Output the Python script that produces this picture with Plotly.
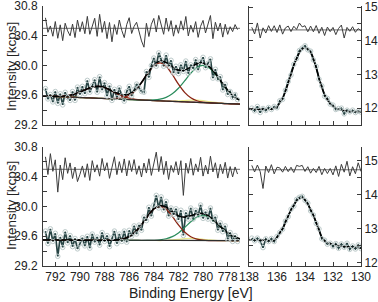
import numpy as np
import plotly.graph_objects as go

FONT = "Liberation Sans, Arial, sans-serif"

# ---------------- Left panels (Co 2p region) ----------------
E_LEFT = [792.8, 792.6, 792.4, 792.2, 792.0, 791.8, 791.6, 791.4, 791.2, 791.0,
          790.8, 790.6, 790.4, 790.2, 790.0, 789.8, 789.6, 789.4, 789.2, 789.0,
          788.8, 788.6, 788.4, 788.2, 788.0, 787.8, 787.6, 787.4, 787.2, 787.0,
          786.8, 786.6, 786.4, 786.2, 786.0, 785.8, 785.6, 785.4, 785.2, 785.0,
          784.8, 784.6, 784.4, 784.2, 784.0, 783.8, 783.6, 783.4, 783.2, 783.0,
          782.8, 782.6, 782.4, 782.2, 782.0, 781.8, 781.6, 781.4, 781.2, 781.0,
          780.8, 780.6, 780.4, 780.2, 780.0, 779.8, 779.6, 779.4, 779.2, 779.0,
          778.8, 778.6, 778.4, 778.2, 778.0, 777.8, 777.6, 777.4, 777.2]

TL_DATA = [29.69, 29.55, 29.61, 29.51, 29.65, 29.49, 29.62, 29.47, 29.64, 29.57,
           29.53, 29.65, 29.53, 29.71, 29.61, 29.72, 29.62, 29.80, 29.64, 29.73,
           29.81, 29.64, 29.85, 29.67, 29.77, 29.59, 29.73, 29.53, 29.68, 29.57,
           29.70, 29.59, 29.52, 29.65, 29.72, 29.59, 29.68, 29.75, 29.70, 29.65,
           29.64, 29.92, 29.84, 30.00, 30.10, 29.99, 30.17, 30.08, 29.99, 30.14,
           29.99, 30.07, 29.90, 29.99, 29.89, 30.01, 29.92, 30.06, 29.89, 30.01,
           29.96, 30.08, 29.94, 30.05, 30.11, 29.97, 30.03, 30.09, 29.83, 29.95,
           29.82, 29.85, 29.67, 29.75, 29.61, 29.65, 29.57, 29.61, 29.54]

BL_DATA = [29.67, 29.50, 29.70, 29.53, 29.64, 29.33, 29.59, 29.45, 29.66, 29.51,
           29.61, 29.46, 29.57, 29.43, 29.50, 29.58, 29.47, 29.60, 29.44, 29.63,
           29.52, 29.59, 29.48, 29.65, 29.53, 29.61, 29.46, 29.58, 29.67, 29.50,
           29.63, 29.53, 29.67, 29.52, 29.68, 29.60, 29.74, 29.63, 29.75, 29.68,
           29.86, 29.81, 29.99, 29.87, 30.02, 30.15, 29.98, 30.13, 29.95, 30.07,
           29.87, 29.98, 29.89, 29.97, 29.82, 29.95, 29.61, 29.92, 29.83, 29.98,
           29.83, 29.95, 29.88, 30.02, 29.84, 29.93, 29.83, 29.98, 29.80, 29.86,
           29.68, 29.78, 29.66, 29.74, 29.56, 29.65, 29.53, 29.61, 29.53]

FIT_E_LEFT = [793.0, 792.5, 792.0, 791.5, 791.0, 790.5, 790.0, 789.5, 789.0, 788.5,
              788.0, 787.5, 787.0, 786.5, 786.0, 785.5, 785.0, 784.5, 784.0, 783.5,
              783.0, 782.5, 782.0, 781.5, 781.0, 780.5, 780.0, 779.5, 779.0, 778.5,
              778.0, 777.5, 777.0]

TL_BG = [29.590, 29.587, 29.583, 29.580, 29.576, 29.573, 29.569, 29.566, 29.563, 29.559,
         29.556, 29.552, 29.549, 29.545, 29.542, 29.538, 29.535, 29.532, 29.528, 29.525,
         29.521, 29.518, 29.514, 29.511, 29.508, 29.504, 29.501, 29.497, 29.494, 29.490,
         29.487, 29.483, 29.480]
TL_BROWN1 = [29.590, 29.588, 29.585, 29.587, 29.594, 29.613, 29.642, 29.679, 29.710, 29.719,
             29.703, 29.665, 29.622, 29.585, 29.560, 29.545, 29.537, 29.533, 29.528, 29.525,
             29.521, 29.518, 29.514, 29.511, 29.508, 29.504, 29.501, 29.497, 29.494, 29.490,
             29.487, 29.483, 29.480]
TL_BROWN2 = [29.590, 29.587, 29.583, 29.580, 29.576, 29.573, 29.569, 29.566, 29.563, 29.559,
             29.556, 29.554, 29.556, 29.567, 29.600, 29.665, 29.769, 29.893, 29.996, 30.035,
             29.989, 29.879, 29.748, 29.638, 29.566, 29.526, 29.508, 29.499, 29.494, 29.490,
             29.487, 29.483, 29.480]
TL_GREEN = [29.590, 29.587, 29.583, 29.580, 29.576, 29.573, 29.569, 29.566, 29.563, 29.559,
            29.556, 29.552, 29.549, 29.545, 29.542, 29.538, 29.535, 29.535, 29.537, 29.547,
            29.572, 29.620, 29.694, 29.793, 29.896, 29.973, 30.001, 29.966, 29.882, 29.772,
            29.667, 29.585, 29.531]
TL_YELLOW = [29.590, 29.587, 29.583, 29.580, 29.576, 29.573, 29.569, 29.566, 29.563, 29.559,
             29.556, 29.552, 29.549, 29.545, 29.542, 29.538, 29.535, 29.532, 29.528, 29.525,
             29.522, 29.522, 29.524, 29.529, 29.534, 29.534, 29.527, 29.515, 29.504, 29.494,
             29.488, 29.483, 29.480]
TL_ENV = [29.590, 29.588, 29.585, 29.587, 29.594, 29.613, 29.642, 29.679, 29.710, 29.719,
          29.703, 29.667, 29.629, 29.607, 29.618, 29.672, 29.771, 29.897, 30.005, 30.057,
          30.041, 29.985, 29.938, 29.938, 29.980, 30.025, 30.034, 29.986, 29.892, 29.776,
          29.668, 29.585, 29.531]

BL_BG = [29.550, 29.550, 29.549, 29.549, 29.549, 29.548, 29.548, 29.547, 29.547, 29.546,
         29.546, 29.545, 29.545, 29.544, 29.544, 29.544, 29.543, 29.543, 29.543, 29.542,
         29.542, 29.542, 29.541, 29.541, 29.541, 29.541, 29.541, 29.540, 29.540, 29.540,
         29.540, 29.540, 29.540]
BL_BROWN = [29.550, 29.550, 29.549, 29.549, 29.549, 29.548, 29.548, 29.547, 29.547, 29.546,
            29.546, 29.547, 29.551, 29.564, 29.596, 29.659, 29.754, 29.868, 29.965, 30.002,
            29.964, 29.867, 29.752, 29.656, 29.593, 29.561, 29.547, 29.542, 29.540, 29.540,
            29.540, 29.540, 29.540]
BL_GREEN = [29.550, 29.550, 29.549, 29.549, 29.549, 29.548, 29.548, 29.547, 29.547, 29.546,
            29.546, 29.545, 29.545, 29.544, 29.544, 29.544, 29.543, 29.544, 29.546, 29.551,
            29.566, 29.595, 29.645, 29.716, 29.794, 29.857, 29.881, 29.856, 29.793, 29.715,
            29.644, 29.593, 29.564]
BL_YELLOW = [29.550, 29.550, 29.549, 29.549, 29.549, 29.548, 29.548, 29.547, 29.547, 29.546,
             29.546, 29.545, 29.545, 29.544, 29.544, 29.544, 29.543, 29.543, 29.543, 29.542,
             29.546, 29.552, 29.559, 29.567, 29.571, 29.567, 29.559, 29.550, 29.544, 29.541,
             29.540, 29.540, 29.540]
BL_ENV = [29.550, 29.550, 29.549, 29.549, 29.549, 29.548, 29.548, 29.547, 29.547, 29.546,
          29.546, 29.547, 29.551, 29.564, 29.596, 29.659, 29.754, 29.869, 29.968, 30.011,
          29.992, 29.930, 29.874, 29.857, 29.876, 29.903, 29.905, 29.868, 29.797, 29.716,
          29.644, 29.593, 29.564]

# ---------------- Right panels (P 2p region) ----------------
E_RIGHT = [137.8, 137.6, 137.4, 137.2, 137.0, 136.8, 136.6, 136.4, 136.2, 136.0,
           135.8, 135.6, 135.4, 135.2, 135.0, 134.8, 134.6, 134.4, 134.2, 134.0,
           133.8, 133.6, 133.4, 133.2, 133.0, 132.8, 132.6, 132.4, 132.2, 132.0,
           131.8, 131.6, 131.4, 131.2, 131.0, 130.8, 130.6, 130.4, 130.2, 130.0]
TR_DATA = [12.00, 11.92, 12.05, 11.87, 11.99, 11.93, 12.02, 11.96, 12.05, 12.01,
           12.22, 12.26, 12.53, 12.79, 12.98, 13.30, 13.47, 13.71, 13.78, 13.85,
           13.73, 13.69, 13.43, 13.24, 12.86, 12.66, 12.35, 12.29, 12.12, 12.09,
           11.96, 11.99, 12.00, 11.83, 11.94, 11.89, 11.94, 11.87, 11.91, 11.88]
BR_DATA = [12.72, 12.64, 12.72, 12.64, 12.44, 12.70, 12.62, 12.71, 12.62, 12.77,
           12.89, 12.98, 13.22, 13.35, 13.57, 13.66, 13.86, 13.92, 13.95, 13.83,
           13.75, 13.52, 13.40, 13.15, 12.99, 12.70, 12.66, 12.54, 12.57, 12.47,
           12.56, 12.42, 12.55, 12.45, 12.57, 12.39, 12.49, 12.40, 12.52, 12.41]
FIT_E_RIGHT = [138.0, 137.0, 136.5, 136.25, 136.0, 135.75, 135.5, 135.25, 135.0, 134.75,
               134.5, 134.25, 134.0, 133.75, 133.5, 133.25, 133.0, 132.75, 132.5, 132.25,
               132.0, 131.5, 131.0, 130.5, 130.0]
TR_ENV = [11.97, 11.965, 11.97, 11.99, 12.04, 12.19, 12.39, 12.68, 13.00, 13.32,
          13.56, 13.73, 13.80, 13.74, 13.58, 13.26, 12.90, 12.56, 12.32, 12.16,
          12.06, 11.95, 11.91, 11.90, 11.89]
BR_ENV = [12.67, 12.66, 12.65, 12.65, 12.74, 12.90, 13.08, 13.33, 13.54, 13.73,
          13.86, 13.91, 13.85, 13.68, 13.48, 13.24, 12.95, 12.71, 12.60, 12.56,
          12.53, 12.49, 12.47, 12.45, 12.43]

# residual baselines and display gains
RES_BASE_LEFT = 30.5
RES_BASE_TR = 14.32
RES_BASE_BR = 14.73
RES_GAIN_LEFT = 1.4
RES_GAIN_RIGHT = 2.5

# ticks
X_TICKS_LEFT = [792, 790, 788, 786, 784, 782, 780, 778]
X_MINOR_LEFT = [793, 791, 789, 787, 785, 783, 781, 779, 777]
X_TICKS_RIGHT = [138, 136, 134, 132, 130]
X_MINOR_RIGHT = [137, 135, 133, 131]
Y_TICKS_LEFT = [29.2, 29.6, 30.0, 30.4, 30.8]
Y_MINOR_LEFT = [29.4, 29.8, 30.2, 30.6]
Y_TICKS_RIGHT = [12, 13, 14, 15]
Y_MINOR_RIGHT = [11.5, 12.5, 13.5, 14.5]

C_DATA_LINE = "#274444"
C_MARK = "#bccaca"
C_RES = "#3c3c3c"
C_ENV = "#000000"
C_BROWN = "#8a2414"
C_GREEN = "#2a8c5c"
C_YELLOW = "#eaea8c"
C_BG = "#2e2e2e"
C_AX = "#3a3a3a"

fig = go.Figure()


def add_panel(xa, ya, e, data, fit_e, env, comps, bg, base, gain):
    e = np.asarray(e, float)
    data = np.asarray(data, float)
    fe = np.asarray(fit_e, float)[::-1]
    env_at = np.interp(e, fe, np.asarray(env, float)[::-1])
    resid = base + gain * (data - env_at)
    fig.add_trace(go.Scatter(x=[fit_e[0], fit_e[-1]], y=[base, base], mode="lines",
                             line=dict(color="#6a6a6a", width=1), xaxis=xa, yaxis=ya,
                             hoverinfo="skip", showlegend=False))
    fig.add_trace(go.Scatter(x=e, y=resid, mode="lines",
                             line=dict(color=C_RES, width=1), xaxis=xa, yaxis=ya,
                             showlegend=False))
    fig.add_trace(go.Scatter(x=e, y=data, mode="lines",
                             line=dict(color=C_DATA_LINE, width=1.7), xaxis=xa, yaxis=ya,
                             showlegend=False))
    for vals, col, w in comps:
        fig.add_trace(go.Scatter(x=fit_e, y=vals, mode="lines",
                                 line=dict(color=col, width=w, shape="spline", smoothing=0.8),
                                 xaxis=xa, yaxis=ya, showlegend=False))
    if bg is not None:
        fig.add_trace(go.Scatter(x=fit_e, y=bg, mode="lines",
                                 line=dict(color=C_BG, width=1.2), xaxis=xa, yaxis=ya,
                                 showlegend=False))
    fig.add_trace(go.Scatter(x=fit_e, y=env, mode="lines",
                             line=dict(color=C_ENV, width=1.6, shape="spline", smoothing=0.8),
                             xaxis=xa, yaxis=ya, showlegend=False))
    fig.add_trace(go.Scatter(x=e, y=data, mode="markers",
                             marker=dict(symbol="circle-open", size=4.5, color=C_MARK,
                                         line=dict(width=1, color=C_MARK)),
                             xaxis=xa, yaxis=ya, showlegend=False))


add_panel("x", "y", E_LEFT, TL_DATA, FIT_E_LEFT, TL_ENV,
          [(TL_YELLOW, C_YELLOW, 1.2), (TL_GREEN, C_GREEN, 1.2),
           (TL_BROWN1, C_BROWN, 1.3), (TL_BROWN2, C_BROWN, 1.3)],
          TL_BG, RES_BASE_LEFT, RES_GAIN_LEFT)
add_panel("x2", "y2", E_RIGHT, TR_DATA, FIT_E_RIGHT, TR_ENV, [], None,
          RES_BASE_TR, RES_GAIN_RIGHT)
add_panel("x3", "y3", E_LEFT, BL_DATA, FIT_E_LEFT, BL_ENV,
          [(BL_YELLOW, C_YELLOW, 1.2), (BL_GREEN, C_GREEN, 1.2), (BL_BROWN, C_BROWN, 1.3)],
          BL_BG, RES_BASE_LEFT, RES_GAIN_LEFT)
add_panel("x4", "y4", E_RIGHT, BR_DATA, FIT_E_RIGHT, BR_ENV, [], None,
          RES_BASE_BR, RES_GAIN_RIGHT)

W, H = 378, 302
XL = [43 / W, 240 / W]
XR = [249 / W, 361 / W]
YT = [1 - 125 / H, 1 - 6 / H]
YB = [1 - 266 / H, 1 - 147 / H]

tickfont = dict(family=FONT, size=12, color="#222")


def xax(dom, anchor, rng, major, minor, labels):
    return dict(domain=dom, anchor=anchor, range=rng, showline=True, linecolor=C_AX,
                linewidth=1, mirror=False, ticks="inside", ticklen=4, tickcolor=C_AX,
                tickmode="array", tickvals=major, showticklabels=labels, automargin=False,
                tickfont=tickfont, showgrid=False, zeroline=False, ticklabeloverflow="allow",
                minor=dict(tickmode="array", tickvals=minor, ticks="inside", ticklen=4,
                           tickcolor=C_AX, showgrid=False))


def yax(dom, anchor, rng, major, minor, side, mirror, fmt, standoff):
    return dict(domain=dom, anchor=anchor, range=rng, side=side, showline=True,
                linecolor=C_AX, linewidth=1, mirror=mirror, ticks="inside", ticklen=4,
                tickcolor=C_AX, tickmode="array", tickvals=major, tickformat=fmt,
                tickfont=tickfont, showgrid=False, zeroline=False,
                ticklabelstandoff=standoff, automargin=False, ticklabeloverflow="allow",
                minor=dict(tickmode="array", tickvals=minor, ticks="inside", ticklen=4,
                           tickcolor=C_AX, showgrid=False))


title_font = dict(family=FONT, size=13.5, color="#222")
fig.update_layout(
    width=W, height=H, margin=dict(l=0, r=0, t=0, b=0, autoexpand=False),
    paper_bgcolor="white", plot_bgcolor="white", showlegend=False,
    xaxis=xax(XL, "y", [793, 777], X_TICKS_LEFT, X_MINOR_LEFT, False),
    xaxis2=xax(XR, "y2", [138, 130], X_TICKS_RIGHT, X_MINOR_RIGHT, False),
    xaxis3=xax(XL, "y3", [793, 777], X_TICKS_LEFT, X_MINOR_LEFT, True),
    xaxis4=xax(XR, "y4", [138, 130], X_TICKS_RIGHT, X_MINOR_RIGHT, True),
    yaxis=yax(YT, "x", [29.2, 30.8], Y_TICKS_LEFT, Y_MINOR_LEFT, "left", False, ".1f", 2),
    yaxis2=yax(YT, "x2", [11.5, 15.03], Y_TICKS_RIGHT, Y_MINOR_RIGHT, "right", "ticks", "d", 0),
    yaxis3=yax(YB, "x3", [29.2, 30.8], Y_TICKS_LEFT, Y_MINOR_LEFT, "left", False, ".1f", 2),
    yaxis4=yax(YB, "x4", [11.9, 15.4], Y_TICKS_RIGHT, Y_MINOR_RIGHT, "right", "ticks", "d", 0),
    annotations=[
        dict(text="Intensity [kcps]", x=11 / W, y=1 - 67 / H, xref="paper", yref="paper",
             xanchor="center", yanchor="middle", textangle=-90, showarrow=False,
             font=title_font),
        dict(text="Intensity [kcps]", x=11 / W, y=1 - 206 / H, xref="paper", yref="paper",
             xanchor="center", yanchor="middle", textangle=-90, showarrow=False,
             font=title_font),
        dict(text="Binding Energy [eV]", x=191 / W, y=1 - 293 / H, xref="paper",
             yref="paper", xanchor="center", yanchor="middle", showarrow=False,
             font=dict(family=FONT, size=14, color="#222")),
    ],
)

fig.write_html("out.html", config={"displayModeBar": False},
               post_script="document.body.style.margin='0';"
                           "document.body.style.overflow='hidden';")
